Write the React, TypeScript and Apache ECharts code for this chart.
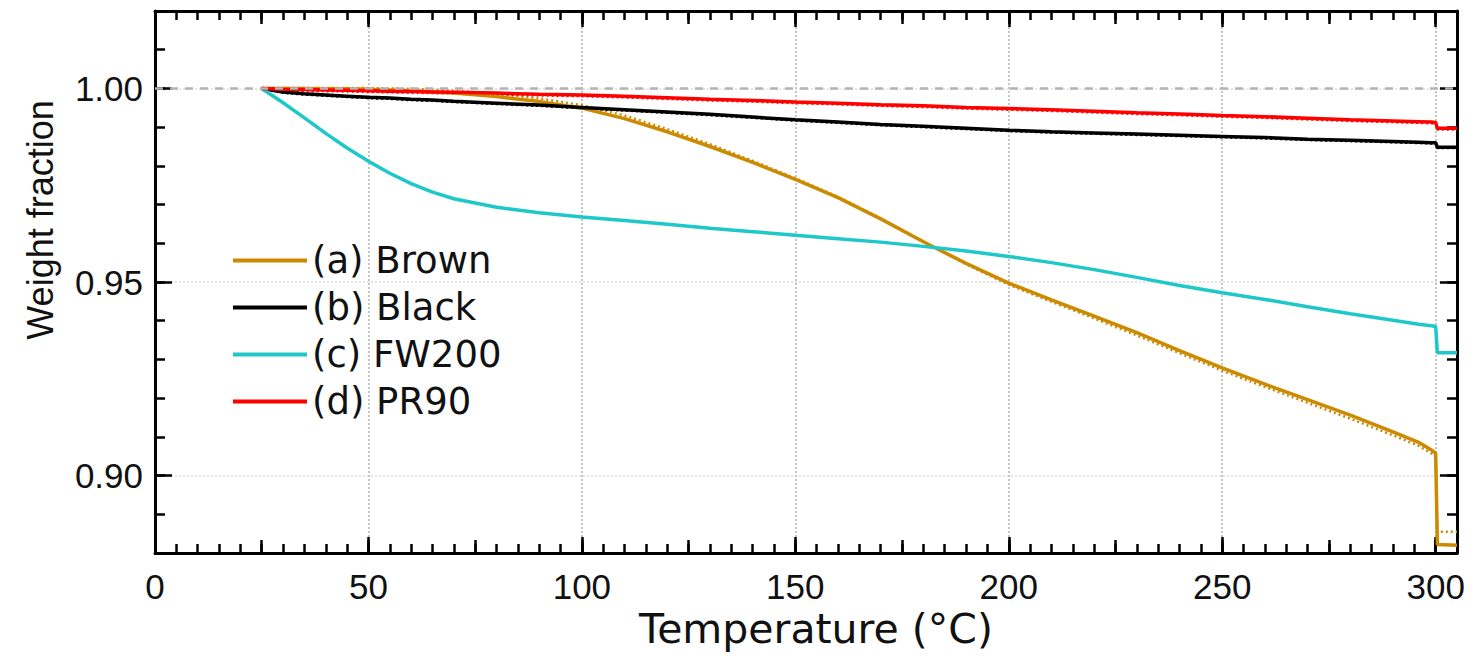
import React, { useEffect, useRef } from "react";
import * as echarts from "echarts";

const temperatures = [
  25, 30, 35, 40, 45, 50, 55, 60, 65, 70,
  80, 90, 100, 110, 120, 130, 140, 150, 160, 170,
  180, 190, 200, 210, 220, 230, 240, 250, 260, 270,
  280, 290, 296, 299, 300, 300.4, 305,
];

const brown = [
  1.0, 1.0, 1.0, 0.9999, 0.9999, 0.9998, 0.9996, 0.9994, 0.9991, 0.9988,
  0.9979, 0.9966, 0.9949, 0.9922, 0.9888, 0.985, 0.9809, 0.9765, 0.9718, 0.9663,
  0.9604, 0.9548, 0.9497, 0.9454, 0.9412, 0.9369, 0.9323, 0.9278, 0.9236, 0.9196,
  0.9156, 0.9113, 0.9086, 0.9066, 0.9058, 0.8822, 0.882,
];

const brownRepeat = [
  1.0001, 1.0001, 1.0001, 1.0001, 1.0001, 1.0001, 1.0, 0.9999, 0.9997, 0.9994,
  0.9986, 0.9974, 0.9957, 0.993, 0.9895, 0.9856, 0.9813, 0.9768, 0.972, 0.9664,
  0.9604, 0.9546, 0.9493, 0.9449, 0.9406, 0.9362, 0.9316, 0.9271, 0.9229, 0.9188,
  0.9147, 0.9104, 0.9077, 0.9057, 0.905, 0.8855, 0.8855,
];

const black = [
  1.0, 0.9991, 0.9986, 0.9983, 0.998, 0.9977, 0.9975, 0.9972, 0.997, 0.9967,
  0.9962, 0.9957, 0.9951, 0.9945, 0.9939, 0.9933, 0.9926, 0.9919, 0.9913, 0.9907,
  0.9902, 0.9897, 0.9892, 0.9888, 0.9885, 0.9882, 0.9879, 0.9876, 0.9873, 0.9869,
  0.9866, 0.9863, 0.9861, 0.986, 0.986, 0.9848, 0.9848,
];

const blackRepeat = [
  0.9999, 0.9989, 0.9984, 0.9981, 0.9978, 0.9975, 0.9973, 0.997, 0.9968, 0.9965,
  0.996, 0.9955, 0.9949, 0.9943, 0.9937, 0.9931, 0.9924, 0.9917, 0.9911, 0.9905,
  0.99, 0.9895, 0.989, 0.9886, 0.9883, 0.988, 0.9877, 0.9874, 0.9871, 0.9867,
  0.9864, 0.9861, 0.9859, 0.9858, 0.9858, 0.9846, 0.9846,
];

const fw200 = [
  1.0, 0.9963, 0.9924, 0.9884, 0.9846, 0.9812, 0.9781, 0.9754, 0.9732, 0.9715,
  0.9693, 0.9679, 0.9668, 0.9659, 0.9649, 0.9639, 0.963, 0.9621, 0.9612, 0.9603,
  0.9592, 0.958, 0.9566, 0.955, 0.9532, 0.9512, 0.9491, 0.9472, 0.9455, 0.9436,
  0.9418, 0.9401, 0.9391, 0.9387, 0.9385, 0.9317, 0.9317,
];

const pr90 = [
  1.0, 0.9998, 0.9997, 0.9996, 0.9995, 0.9994, 0.9993, 0.9992, 0.9991, 0.999,
  0.9988, 0.9985, 0.9983, 0.998, 0.9976, 0.9972, 0.9969, 0.9965, 0.9962, 0.9958,
  0.9955, 0.9951, 0.9948, 0.9945, 0.9941, 0.9937, 0.9934, 0.993, 0.9927, 0.9923,
  0.9919, 0.9916, 0.9914, 0.9913, 0.9912, 0.9897, 0.9897,
];

const pr90Repeat = [
  0.9999, 0.9995, 0.9994, 0.9993, 0.9992, 0.9991, 0.999, 0.9989, 0.9988, 0.9987,
  0.9985, 0.9982, 0.998, 0.9977, 0.9973, 0.9969, 0.9966, 0.9962, 0.9959, 0.9955,
  0.9952, 0.9948, 0.9945, 0.9942, 0.9938, 0.9934, 0.9931, 0.9927, 0.9924, 0.992,
  0.9916, 0.9913, 0.9911, 0.991, 0.9909, 0.9894, 0.9894,
];

const seriesNames = ["(a) Brown", "(b) Black", "(c) FW200", "(d) PR90"];
const seriesColors = ["#CC8A00", "#000000", "#1EC8C8", "#FF0000"];
const xMin = 0;
const xMax = 305;
const yMin = 0.88;
const yMax = 1.02;

const pairs = (ys: number[]) => temperatures.map((t, i) => [t, ys[i]]);

const GRID = { left: 155, right: 16, top: 11, bottom: 107 };
const W = 1473;
const H = 660;
const plotW = W - GRID.left - GRID.right;
const plotH = H - GRID.top - GRID.bottom;

export default function App() {
  const ref = useRef<HTMLDivElement>(null);

  useEffect(() => {
    if (!ref.current) return;
    const chart = echarts.init(ref.current, undefined, { renderer: "svg" });

    const tickStyle = { color: "#000", width: 2.5 };
    const frameLine = { show: true, onZero: false, lineStyle: { color: "#000", width: 3 } };

    // tick axes placed on the opposite side (negative offset) so that ticks point into the plot
    const xTick = (position: string, interval: number, len: number) => ({
      type: "value",
      min: xMin,
      max: xMax,
      position,
      offset: -plotH,
      interval,
      axisLine: { show: false, onZero: false },
      axisTick: { show: true, inside: false, length: len, lineStyle: tickStyle },
      axisLabel: { show: false },
      splitLine: { show: false },
    });
    const yTick = (position: string, major: boolean, len: number) => ({
      type: "value",
      min: yMin,
      max: yMax,
      position,
      offset: -plotW,
      ...(major ? { splitNumber: 3 } : { interval: 0.01 }),
      axisLine: { show: false, onZero: false },
      axisTick: { show: true, inside: false, length: len, lineStyle: tickStyle },
      axisLabel: { show: false },
      splitLine: { show: false },
    });

    const option: any = {
      animation: false,
      backgroundColor: "#fff",
      grid: { ...GRID, containLabel: false },
      xAxis: [
        {
          type: "value",
          min: xMin,
          max: xMax,
          position: "bottom",
          interval: 50,
          axisLine: frameLine,
          axisTick: { show: false },
          axisLabel: {
            show: true,
            fontSize: 35,
            fontFamily: "Liberation Sans",
            color: "#111",
            margin: 16,
            showMaxLabel: false,
          },
          splitLine: { show: true, lineStyle: { color: "#c4c4c4", type: [2, 2], width: 2 } },
          name: "Temperature (°C)",
          nameLocation: "middle",
          nameGap: 50,
          nameTextStyle: { fontSize: 41, fontFamily: "DejaVu Sans", color: "#111", padding: [0, 0, 0, 20] },
        },
        {
          type: "value",
          min: xMin,
          max: xMax,
          position: "top",
          axisLine: frameLine,
          axisTick: { show: false },
          axisLabel: { show: false },
          splitLine: { show: false },
        },
        xTick("top", 50, 16),
        xTick("top", 25, 13),
        xTick("top", 5, 9),
        xTick("bottom", 50, 16),
        xTick("bottom", 25, 13),
        xTick("bottom", 5, 9),
      ],
      yAxis: [
        {
          type: "value",
          min: yMin,
          max: yMax,
          position: "left",
          splitNumber: 3,
          axisLine: frameLine,
          axisTick: { show: false },
          axisLabel: {
            show: true,
            fontSize: 35,
            fontFamily: "Liberation Sans Narrow, Liberation Sans",
            color: "#111",
            margin: 12,
            showMinLabel: false,
            showMaxLabel: false,
            formatter: (v: number) => v.toFixed(2),
          },
          splitLine: { show: true, lineStyle: { color: "#dadada", type: [2, 2], width: 1.5 } },
        },
        {
          type: "value",
          min: yMin,
          max: yMax,
          position: "right",
          axisLine: frameLine,
          axisTick: { show: false },
          axisLabel: { show: false },
          splitLine: { show: false },
        },
        yTick("left", true, 17),
        yTick("left", false, 10),
        yTick("right", true, 17),
        yTick("right", false, 10),
      ],
      graphic: [
        {
          type: "text",
          x: 40,
          y: 220,
          rotation: Math.PI / 2,
          style: {
            text: "Weight fraction",
            fontSize: 36,
            fontFamily: "Liberation Sans",
            fill: "#111",
            textAlign: "center",
            textVerticalAlign: "middle",
          },
        },
      ],
      legend: {
        show: true,
        orient: "vertical",
        left: 228,
        top: 236,
        itemWidth: 74,
        itemHeight: 4,
        itemGap: 8,
        icon: "rect",
        selectedMode: false,
        textStyle: { fontSize: 37, fontFamily: "DejaVu Sans", color: "#111", lineHeight: 39 },
        data: seriesNames,
      },
      series: [
        ...[
          { ys: brownRepeat, c: seriesColors[0] },
          { ys: blackRepeat, c: seriesColors[1] },
          { ys: pr90Repeat, c: seriesColors[3] },
        ].map((d, i) => ({
          name: "repeat-" + i,
          type: "line",
          xAxisIndex: 0,
          yAxisIndex: 0,
          data: pairs(d.ys),
          showSymbol: false,
          symbol: "none",
          lineStyle: { color: d.c, width: 2.5, type: [2, 3] },
          ...(i === 0
            ? {
                markLine: {
                  silent: true,
                  symbol: "none",
                  label: { show: false },
                  lineStyle: { color: "#b4b4b4", type: [8, 7], width: 2.5 },
                  data: [{ yAxis: 1.0 }],
                },
              }
            : {}),
        })),
        ...[brown, black, fw200, pr90].map((ys, i) => ({
          name: seriesNames[i],
          type: "line",
          xAxisIndex: 0,
          yAxisIndex: 0,
          data: pairs(ys),
          showSymbol: false,
          symbol: "none",
          color: seriesColors[i],
          lineStyle: { color: seriesColors[i], width: 3.5 },
        })),
      ],
    };

    chart.setOption(option);
    return () => chart.dispose();
  }, []);

  return (
    <div
      ref={ref}
      style={{ position: "absolute", left: 0, top: 0, width: W, height: H, background: "#fff" }}
    />
  );
}
